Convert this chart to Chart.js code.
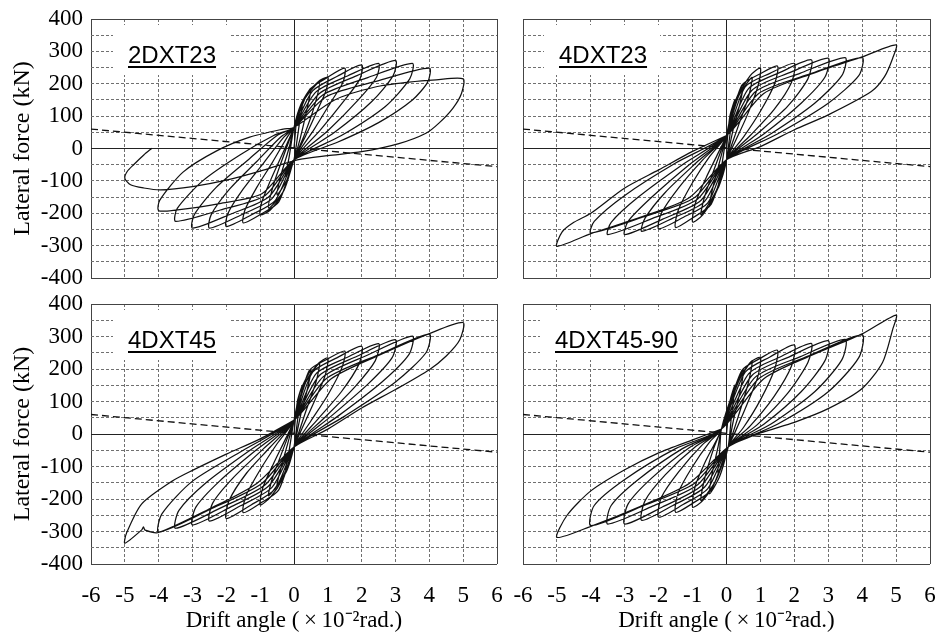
<!DOCTYPE html>
<html>
<head>
<meta charset="utf-8">
<script src="https://cdn.jsdelivr.net/npm/chart.js@4.4.0/dist/chart.umd.min.js"></script>
<style>
  body { margin: 0; background: #fff; }
  #wrap { position: relative; width: 945px; height: 632px; overflow: hidden; }
  canvas { position: absolute; }
</style>
</head>
<body>
<div id="wrap">
  <canvas id="c0" width="510" height="290" style="left:0;top:0"></canvas>
  <canvas id="c1" width="435" height="290" style="left:510px;top:0"></canvas>
  <canvas id="c2" width="510" height="342" style="left:0;top:290px"></canvas>
  <canvas id="c3" width="435" height="342" style="left:510px;top:290px"></canvas>
</div>
<script>
// axis ranges (drift x10^-2 rad, force kN)
const driftRange = [-6, 6];
const forceRange = [-400, 400];
const specimens = ['2DXT23', '4DXT23', '4DXT45', '4DXT45-90'];

// dashed P-delta line
const pDelta = [[-6, 60], [6, -56]];

// hysteresis traces, one array per cycle amplitude: [drift, force]
const loops2DXT23 = [
  [[0,0],[0.1,105],[0.25,140],[0.15,70],[0,-35],[-0.1,-60],[-0.25,-85],[-0.15,-30],[0,65]],
  [[0.2,135],[0.5,186],[0.38,120],[0.18,30],[0,-35],[-0.2,-95],[-0.5,-143],[-0.38,-80],[-0.15,0],[0,65]],
  [[0.3,150],[0.75,205],[0.6,130],[0.3,40],[0,-35],[-0.3,-130],[-0.75,-184],[-0.6,-110],[-0.3,-20],[0,65]],
  [[0.35,160],[0.7,205],[1,220],[0.95,180],[0.7,120],[0.35,40],[0,-35],[-0.35,-140],[-0.7,-190],[-1,-205],[-0.95,-165],[-0.7,-100],[-0.4,-30],[-0.1,40],[0,65]],
  [[0.45,180],[0.98,219],[1.5,248],[1.45,205],[1.1,145],[0.6,60],[0,-35],[-0.45,-165],[-0.98,-203],[-1.5,-230],[-1.45,-190],[-1.1,-120],[-0.65,-45],[-0.2,35],[0,65]],
  [[0.55,178],[1.28,223],[2,258],[1.95,215],[1.5,150],[0.8,60],[0,-35],[-0.55,-160],[-1.28,-206],[-2,-241],[-1.95,-200],[-1.5,-125],[-0.9,-45],[-0.3,35],[0,65]],
  [[0.65,175],[1.58,224],[2.5,263],[2.44,220],[1.9,150],[1.0,55],[0,-35],[-0.65,-155],[-1.58,-206],[-2.5,-246],[-2.45,-205],[-1.9,-125],[-1.1,-40],[-0.4,35],[0,65]],
  [[0.75,170],[1.88,226],[3,272],[2.93,225],[2.3,145],[1.2,50],[0,-35],[-0.75,-150],[-1.88,-203],[-3,-246],[-2.95,-205],[-2.3,-120],[-1.3,-30],[-0.5,40],[0,65]],
  [[0.85,165],[2.18,219],[3.5,263],[3.42,215],[2.7,130],[1.4,40],[0,-35],[-0.85,-145],[-2.18,-190],[-3.5,-225],[-3.45,-185],[-2.7,-100],[-1.6,-20],[-0.6,40],[0,65]],
  [[0.95,160],[2.48,209],[4,248],[3.95,205],[3.5,150],[2.5,80],[1.3,20],[0,-35],[-0.95,-140],[-2.2,-170],[-3.5,-190],[-4,-192],[-3.97,-160],[-3.28,-73],[-2.3,-8],[-1.31,35],[-0.32,60],[0,65]],
  [[1.2,150],[2.4,190],[3.4,205],[4.2,212],[5,215],[4.95,170],[4.7,125],[4.3,80],[3.9,47],[3.1,15],[2,-10],[1,-22],[0.1,-35],[-1,-70],[-2,-98],[-3,-118],[-3.95,-128],[-4.44,-122],[-4.83,-112],[-5,-92],[-4.93,-71],[-4.74,-50],[-4.44,-20],[-4.2,1]]
];

const loops4DXT23 = [
  [[0,0],[0.1,100],[0.25,150],[0.15,80],[0,-35],[-0.1,-80],[-0.25,-122],[-0.15,-60],[0,40]],
  [[0.2,130],[0.5,200],[0.4,140],[0.2,60],[0,-35],[-0.2,-110],[-0.5,-174],[-0.4,-120],[-0.2,-40],[0,40]],
  [[0.3,150],[0.75,220],[0.65,160],[0.35,70],[0,-35],[-0.3,-130],[-0.75,-205],[-0.65,-150],[-0.35,-60],[0,40]],
  [[0.35,160],[0.7,225],[1,248],[0.92,190],[0.6,100],[0.25,20],[0,-35],[-0.35,-145],[-0.7,-205],[-1,-227],[-0.92,-170],[-0.6,-90],[-0.25,-15],[0,40]],
  [[0.45,195],[0.98,230],[1.5,255],[1.42,200],[1.0,115],[0.5,35],[0,-35],[-0.45,-172],[-0.98,-213],[-1.5,-244],[-1.42,-190],[-1.0,-105],[-0.5,-25],[0,40]],
  [[0.55,190],[1.28,232],[2,263],[1.92,205],[1.4,120],[0.7,40],[0,-35],[-0.55,-168],[-1.28,-213],[-2,-248],[-1.92,-200],[-1.4,-120],[-0.7,-35],[0,40]],
  [[0.65,185],[1.58,235],[2.5,274],[2.4,215],[1.8,130],[0.9,45],[0,-35],[-0.65,-164],[-1.58,-215],[-2.5,-256],[-2.4,-215],[-1.8,-135],[-0.9,-45],[0,40]],
  [[0.75,180],[1.88,235],[3,279],[2.9,220],[2.2,140],[1.1,45],[0,-35],[-0.75,-160],[-1.88,-218],[-3,-266],[-2.9,-225],[-2.2,-150],[-1.1,-50],[0,40]],
  [[0.85,175],[2.18,233],[3.5,281],[3.4,225],[2.6,140],[1.3,45],[0,-35],[-0.85,-156],[-2.18,-216],[-3.5,-266],[-3.4,-228],[-2.6,-150],[-1.3,-50],[0,40]],
  [[0.95,170],[2.48,231],[4,281],[3.9,225],[3.0,140],[1.5,45],[0,-35],[-0.95,-152],[-2.48,-212],[-4,-261],[-3.9,-225],[-3.0,-145],[-1.5,-45],[0,40]],
  [[1.1,170],[2.55,232],[4,283],[5,320],[4.9,279],[4.66,222],[4.27,176],[3,104],[2,58],[1,6],[0,-35],[-1.1,-152],[-2.55,-213],[-4,-263],[-5,-302],[-4.85,-258],[-4.5,-228],[-4,-200],[-3,-122],[-2,-66],[-1,-9],[0,40]]
];

const loops4DXT45 = [
  [[0,0],[0.1,100],[0.25,150],[0.15,80],[0,-40],[-0.1,-75],[-0.25,-110],[-0.15,-55],[0,42]],
  [[0.2,135],[0.5,196],[0.4,140],[0.2,60],[0,-40],[-0.2,-110],[-0.5,-160],[-0.4,-110],[-0.2,-35],[0,42]],
  [[0.3,150],[0.75,217],[0.65,160],[0.35,70],[0,-40],[-0.3,-125],[-0.75,-190],[-0.65,-140],[-0.35,-55],[0,42]],
  [[0.35,160],[0.7,215],[1,234],[0.92,180],[0.6,100],[0.25,20],[0,-40],[-0.35,-140],[-0.7,-195],[-1,-218],[-0.92,-165],[-0.6,-90],[-0.25,-15],[0,42]],
  [[0.45,195],[0.98,230],[1.5,255],[1.42,205],[1.0,120],[0.5,40],[0,-40],[-0.45,-172],[-0.98,-212],[-1.5,-242],[-1.42,-190],[-1.0,-110],[-0.5,-30],[0,42]],
  [[0.55,190],[1.28,235],[2,270],[1.92,215],[1.4,130],[0.7,45],[0,-40],[-0.55,-168],[-1.28,-219],[-2,-260],[-1.92,-205],[-1.4,-120],[-0.7,-40],[0,42]],
  [[0.65,185],[1.58,236],[2.5,278],[2.4,225],[1.8,145],[0.9,50],[0,-40],[-0.65,-164],[-1.58,-221],[-2.5,-268],[-2.4,-212],[-1.8,-135],[-0.9,-45],[0,42]],
  [[0.75,180],[1.88,240],[3,290],[2.9,235],[2.2,155],[1.1,55],[0,-40],[-0.75,-160],[-1.88,-225],[-3,-280],[-2.9,-225],[-2.2,-145],[-1.1,-48],[0,42]],
  [[0.85,175],[2.18,243],[3.5,301],[3.4,245],[2.6,160],[1.3,55],[0,-40],[-0.85,-156],[-2.18,-228],[-3.5,-290],[-3.4,-235],[-2.6,-150],[-1.3,-50],[0,42]],
  [[0.95,170],[2.48,243],[4,307],[3.9,250],[3.0,160],[1.5,55],[0,-40],[-0.95,-152],[-2.48,-232],[-4,-302],[-3.9,-245],[-3.0,-145],[-1.5,-50],[0,42]],
  [[1.1,170],[2.55,244],[4,309],[5,343],[4.9,290],[4.5,240],[4,198],[3,137],[2,80],[1,15],[0,-40],[-1.1,-152],[-2.55,-233],[-4,-303],[-4.4,-296],[-4.45,-286],[-4.5,-295],[-5,-336],[-4.95,-305],[-4.5,-215],[-3.6,-145],[-3,-112],[-2,-62],[-1,-15],[0,42]]
];

const loops4DXT45_90 = [
  [[0,0],[0.1,100],[0.25,150],[0.15,60],[0.05,-40],[-0.1,-80],[-0.25,-120],[-0.2,-50],[-0.15,15]],
  [[0.2,130],[0.5,196],[0.4,130],[0.2,40],[0.05,-40],[-0.2,-130],[-0.5,-184],[-0.42,-120],[-0.25,-40],[-0.15,15]],
  [[0.3,150],[0.75,225],[0.65,160],[0.35,55],[0.05,-40],[-0.3,-140],[-0.75,-205],[-0.65,-140],[-0.38,-45],[-0.15,15]],
  [[0.35,160],[0.7,220],[1,235],[0.92,175],[0.6,90],[0.25,5],[0.05,-40],[-0.35,-150],[-0.7,-205],[-1,-225],[-0.92,-160],[-0.6,-80],[-0.3,-20],[-0.15,15]],
  [[0.45,195],[0.98,232],[1.5,258],[1.42,200],[1.0,105],[0.5,20],[0.05,-40],[-0.45,-172],[-0.98,-212],[-1.5,-241],[-1.42,-180],[-1.0,-100],[-0.5,-25],[-0.15,15]],
  [[0.55,190],[1.28,237],[2,274],[1.92,210],[1.4,115],[0.7,25],[0.05,-40],[-0.55,-168],[-1.28,-217],[-2,-256],[-1.92,-195],[-1.4,-115],[-0.7,-32],[-0.15,15]],
  [[0.65,185],[1.58,237],[2.5,279],[2.4,220],[1.8,125],[0.9,28],[0.05,-40],[-0.65,-164],[-1.58,-220],[-2.5,-266],[-2.4,-205],[-1.8,-125],[-0.9,-38],[-0.15,15]],
  [[0.75,180],[1.88,239],[3,287],[2.9,225],[2.2,130],[1.1,30],[0.05,-40],[-0.75,-160],[-1.88,-224],[-3,-277],[-2.9,-215],[-2.2,-135],[-1.1,-42],[-0.15,15]],
  [[0.85,175],[2.18,238],[3.5,291],[3.4,228],[2.6,130],[1.3,30],[0.05,-40],[-0.85,-156],[-2.18,-222],[-3.5,-277],[-3.4,-220],[-2.6,-140],[-1.3,-45],[-0.15,15]],
  [[0.95,170],[2.48,243],[4,305],[3.9,235],[3.0,130],[1.5,30],[0.05,-40],[-0.95,-152],[-2.48,-222],[-4,-282],[-3.9,-220],[-3.0,-140],[-1.5,-45],[-0.15,15]],
  [[1.1,170],[2.55,244],[4,308],[5,366],[4.9,322],[4.6,220],[4,140],[3,78],[2,36],[1,3],[0.05,-40],[-1.1,-152],[-2.55,-223],[-4,-284],[-5,-318],[-4.7,-250],[-4,-175],[-3,-110],[-2,-58],[-1,-18],[-0.15,15]]
];

const serif = 'Liberation Serif';
const xTitle = 'Drift angle (\u2009\u00d7\u200910\u207b\u00b2rad.)';
const yTitle = 'Lateral force (kN)';
const hidden = 'rgba(0,0,0,0)';

function gridColor(ctx) {
  const v = ctx.tick ? ctx.tick.value : null;
  if (v === 0) return '#222';
  if (v === ctx.scale.min || v === ctx.scale.max) return '#444';
  return '#707070';
}
function gridDash(ctx) {
  if (!ctx.tick) return [];
  const v = ctx.tick.value;
  if (v === 0 || v === ctx.scale.min || v === ctx.scale.max) return [];
  return [3, 2];
}

// white box + underlined specimen name
const specLabel = {
  id: 'specLabel',
  beforeDatasetsDraw(chart, args, opts) {
    const {ctx, chartArea} = chart;
    ctx.save();
    ctx.font = '24px "Liberation Sans"';
    const w = ctx.measureText(opts.text).width;
    const x = chartArea.left + opts.dx;
    const y = chartArea.top + 44;
    ctx.fillStyle = '#fff';
    ctx.fillRect(x - 15, chartArea.top + 6, w + 28, 50);
    ctx.fillStyle = '#000';
    ctx.textBaseline = 'alphabetic';
    ctx.fillText(opts.text, x, y);
    ctx.fillRect(x, y + 3, w, 2);
    ctx.restore();
  }
};

function makePanel(id, name, loops, cfg) {
  const path = loops.flat().map(p => ({x: p[0], y: p[1]}));
  return new Chart(document.getElementById(id), {
    type: 'scatter',
    data: {
      datasets: [{
        data: path,
        showLine: true,
        borderColor: '#111',
        borderWidth: 1.25,
        pointRadius: 0,
        tension: 0.25
      }, {
        data: pDelta.map(p => ({x: p[0], y: p[1]})),
        showLine: true,
        borderColor: '#111',
        borderWidth: 1.3,
        borderDash: [7, 4],
        pointRadius: 0
      }]
    },
    options: {
      responsive: false,
      animation: false,
      layout: { padding: { top: cfg.top, right: cfg.right, left: 0, bottom: 0 } },
      plugins: {
        legend: { display: false },
        tooltip: { enabled: false },
        specLabel: { text: name, dx: cfg.dx }
      },
      scales: {
        x: {
          type: 'linear',
          min: driftRange[0],
          max: driftRange[1],
          ticks: {
            stepSize: 1,
            display: cfg.xLabels,
            autoSkip: false,
            maxRotation: 0,
            padding: 0,
            color: '#000',
            font: { family: serif, size: 23, lineHeight: 1 }
          },
          grid: { color: gridColor, lineWidth: 1, drawTicks: true, tickLength: 20, tickColor: hidden },
          border: { display: false, dash: gridDash },
          title: {
            display: cfg.xLabels,
            text: xTitle,
            color: '#000',
            font: { family: serif, size: 23, lineHeight: 1 },
            padding: { top: 0, bottom: 0 }
          },
          afterFit: s => { s.height = cfg.xh; }
        },
        y: {
          type: 'linear',
          min: forceRange[0],
          max: forceRange[1],
          ticks: {
            stepSize: 50,
            display: cfg.yLabels,
            autoSkip: false,
            padding: 0,
            color: '#000',
            font: { family: serif, size: 23, lineHeight: 1 },
            callback: v => (v % 100 === 0 ? String(v) : '')
          },
          grid: { color: gridColor, lineWidth: 1, drawTicks: true, tickLength: 8, tickColor: hidden },
          border: { display: false, dash: gridDash },
          title: {
            display: cfg.yLabels,
            text: yTitle,
            color: '#000',
            font: { family: serif, size: 24, lineHeight: 1 },
            padding: { top: 11, bottom: 0 }
          },
          afterFit: s => { s.width = cfg.yw; }
        }
      }
    },
    plugins: [specLabel]
  });
}

makePanel('c0', specimens[0], loops2DXT23,
  { top: 19, right: 13, xh: 12, yw: 91, dx: 37, xLabels: false, yLabels: true });
makePanel('c1', specimens[1], loops4DXT23,
  { top: 19, right: 15, xh: 12, yw: 13, dx: 36, xLabels: false, yLabels: false });
makePanel('c2', specimens[2], loops4DXT45,
  { top: 14, right: 13, xh: 68, yw: 91, dx: 37, xLabels: true, yLabels: true });
makePanel('c3', specimens[3], loops4DXT45_90,
  { top: 14, right: 15, xh: 68, yw: 13, dx: 32, xLabels: true, yLabels: false });
</script>
</body>
</html>
